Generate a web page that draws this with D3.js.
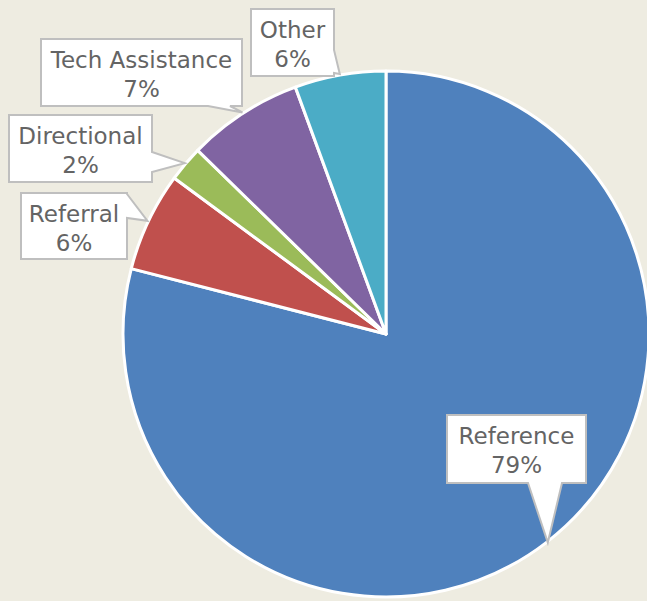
<!DOCTYPE html>
<meta charset="utf-8">
<script src="https://cdn.jsdelivr.net/npm/d3@7"></script>
<style>
body{margin:0;background:#EEECE1;}
svg{display:block;}
.lbl{font-family:"DejaVu Sans",sans-serif;font-size:23px;fill:#646464;}
</style>
<body>
<div id="chart"></div>
<script>
// share of requests by type (percent)
var categories = ["Reference","Referral","Directional","Tech Assistance","Other"];
var values = [79.0, 6.1, 2.2, 7.1, 5.6];
var colors = ["#4F81BD","#C0504D","#9BBB59","#8064A2","#4BACC6"];

// callout boxes: x, y, w, h, side of the pointer, base of the pointer along that side
var callouts = [
  {box:[447,415,139,68], side:"bottom", base:[528,562]},
  {box:[21,193,106,66],  side:"right",  base:[194,218]},
  {box:[9,115,143,67],   side:"right",  base:[152,172]},
  {box:[41,39,201,67],   side:"bottom", base:[208,230]},
  {box:[251,9,83,67],    side:"right",  base:[50,73]}
];

var W=647, H=601, cx=386, cy=334, r=263;

var svg=d3.select("#chart").append("svg")
  .attr("width",W).attr("height",H);

svg.append("rect").attr("width",W).attr("height",H).attr("fill","#EEECE1");

var total=d3.sum(values);
var fmt=d3.format(".0%");

var data=categories.map(function(c,i){return {name:c,value:values[i],color:colors[i]};});

var pie=d3.pie().sort(null).value(function(d){return d.value;});
var arcs=pie(data);

var arc=d3.arc().innerRadius(0).outerRadius(r);
var edge=d3.arc().innerRadius(r+1).outerRadius(r+1);

var g=svg.append("g").attr("transform","translate("+cx+","+cy+")");

g.selectAll("path.slice")
  .data(arcs)
  .enter()
  .append("path")
  .attr("class","slice")
  .attr("d",arc)
  .attr("fill",function(d){return d.data.color;})
  .attr("stroke","#fff")
  .attr("stroke-width",3)
  .attr("stroke-linejoin","round");

// callouts
function calloutPath(c,p){
  var x=c.box[0],y=c.box[1],w=c.box[2],h=c.box[3];
  var pts=[[x,y],[x+w,y]];
  if(c.side=="right"){pts.push([x+w,c.base[0]],p,[x+w,c.base[1]]);}
  pts.push([x+w,y+h]);
  if(c.side=="bottom"){pts.push([c.base[1],y+h],p,[c.base[0],y+h]);}
  pts.push([x,y+h]);
  return d3.line()(pts)+"Z";
}

var lab=svg.append("g");
arcs.forEach(function(d,i){
  var c=callouts[i];
  var e=edge.centroid(d);
  var p=[cx+e[0],cy+e[1]];
  lab.append("path")
    .attr("d",calloutPath(c,p))
    .attr("fill","#fff")
    .attr("stroke","#BFBFBF")
    .attr("stroke-width",2)
    .attr("stroke-linejoin","miter");
  var tx=c.box[0]+c.box[2]/2;
  lab.append("text").attr("class","lbl")
    .attr("x",tx).attr("y",c.box[1]+29)
    .attr("text-anchor","middle")
    .text(d.data.name);
  lab.append("text").attr("class","lbl")
    .attr("x",tx).attr("y",c.box[1]+57.5)
    .attr("text-anchor","middle")
    .text(fmt(d.data.value/total));
});
</script>
</body>
